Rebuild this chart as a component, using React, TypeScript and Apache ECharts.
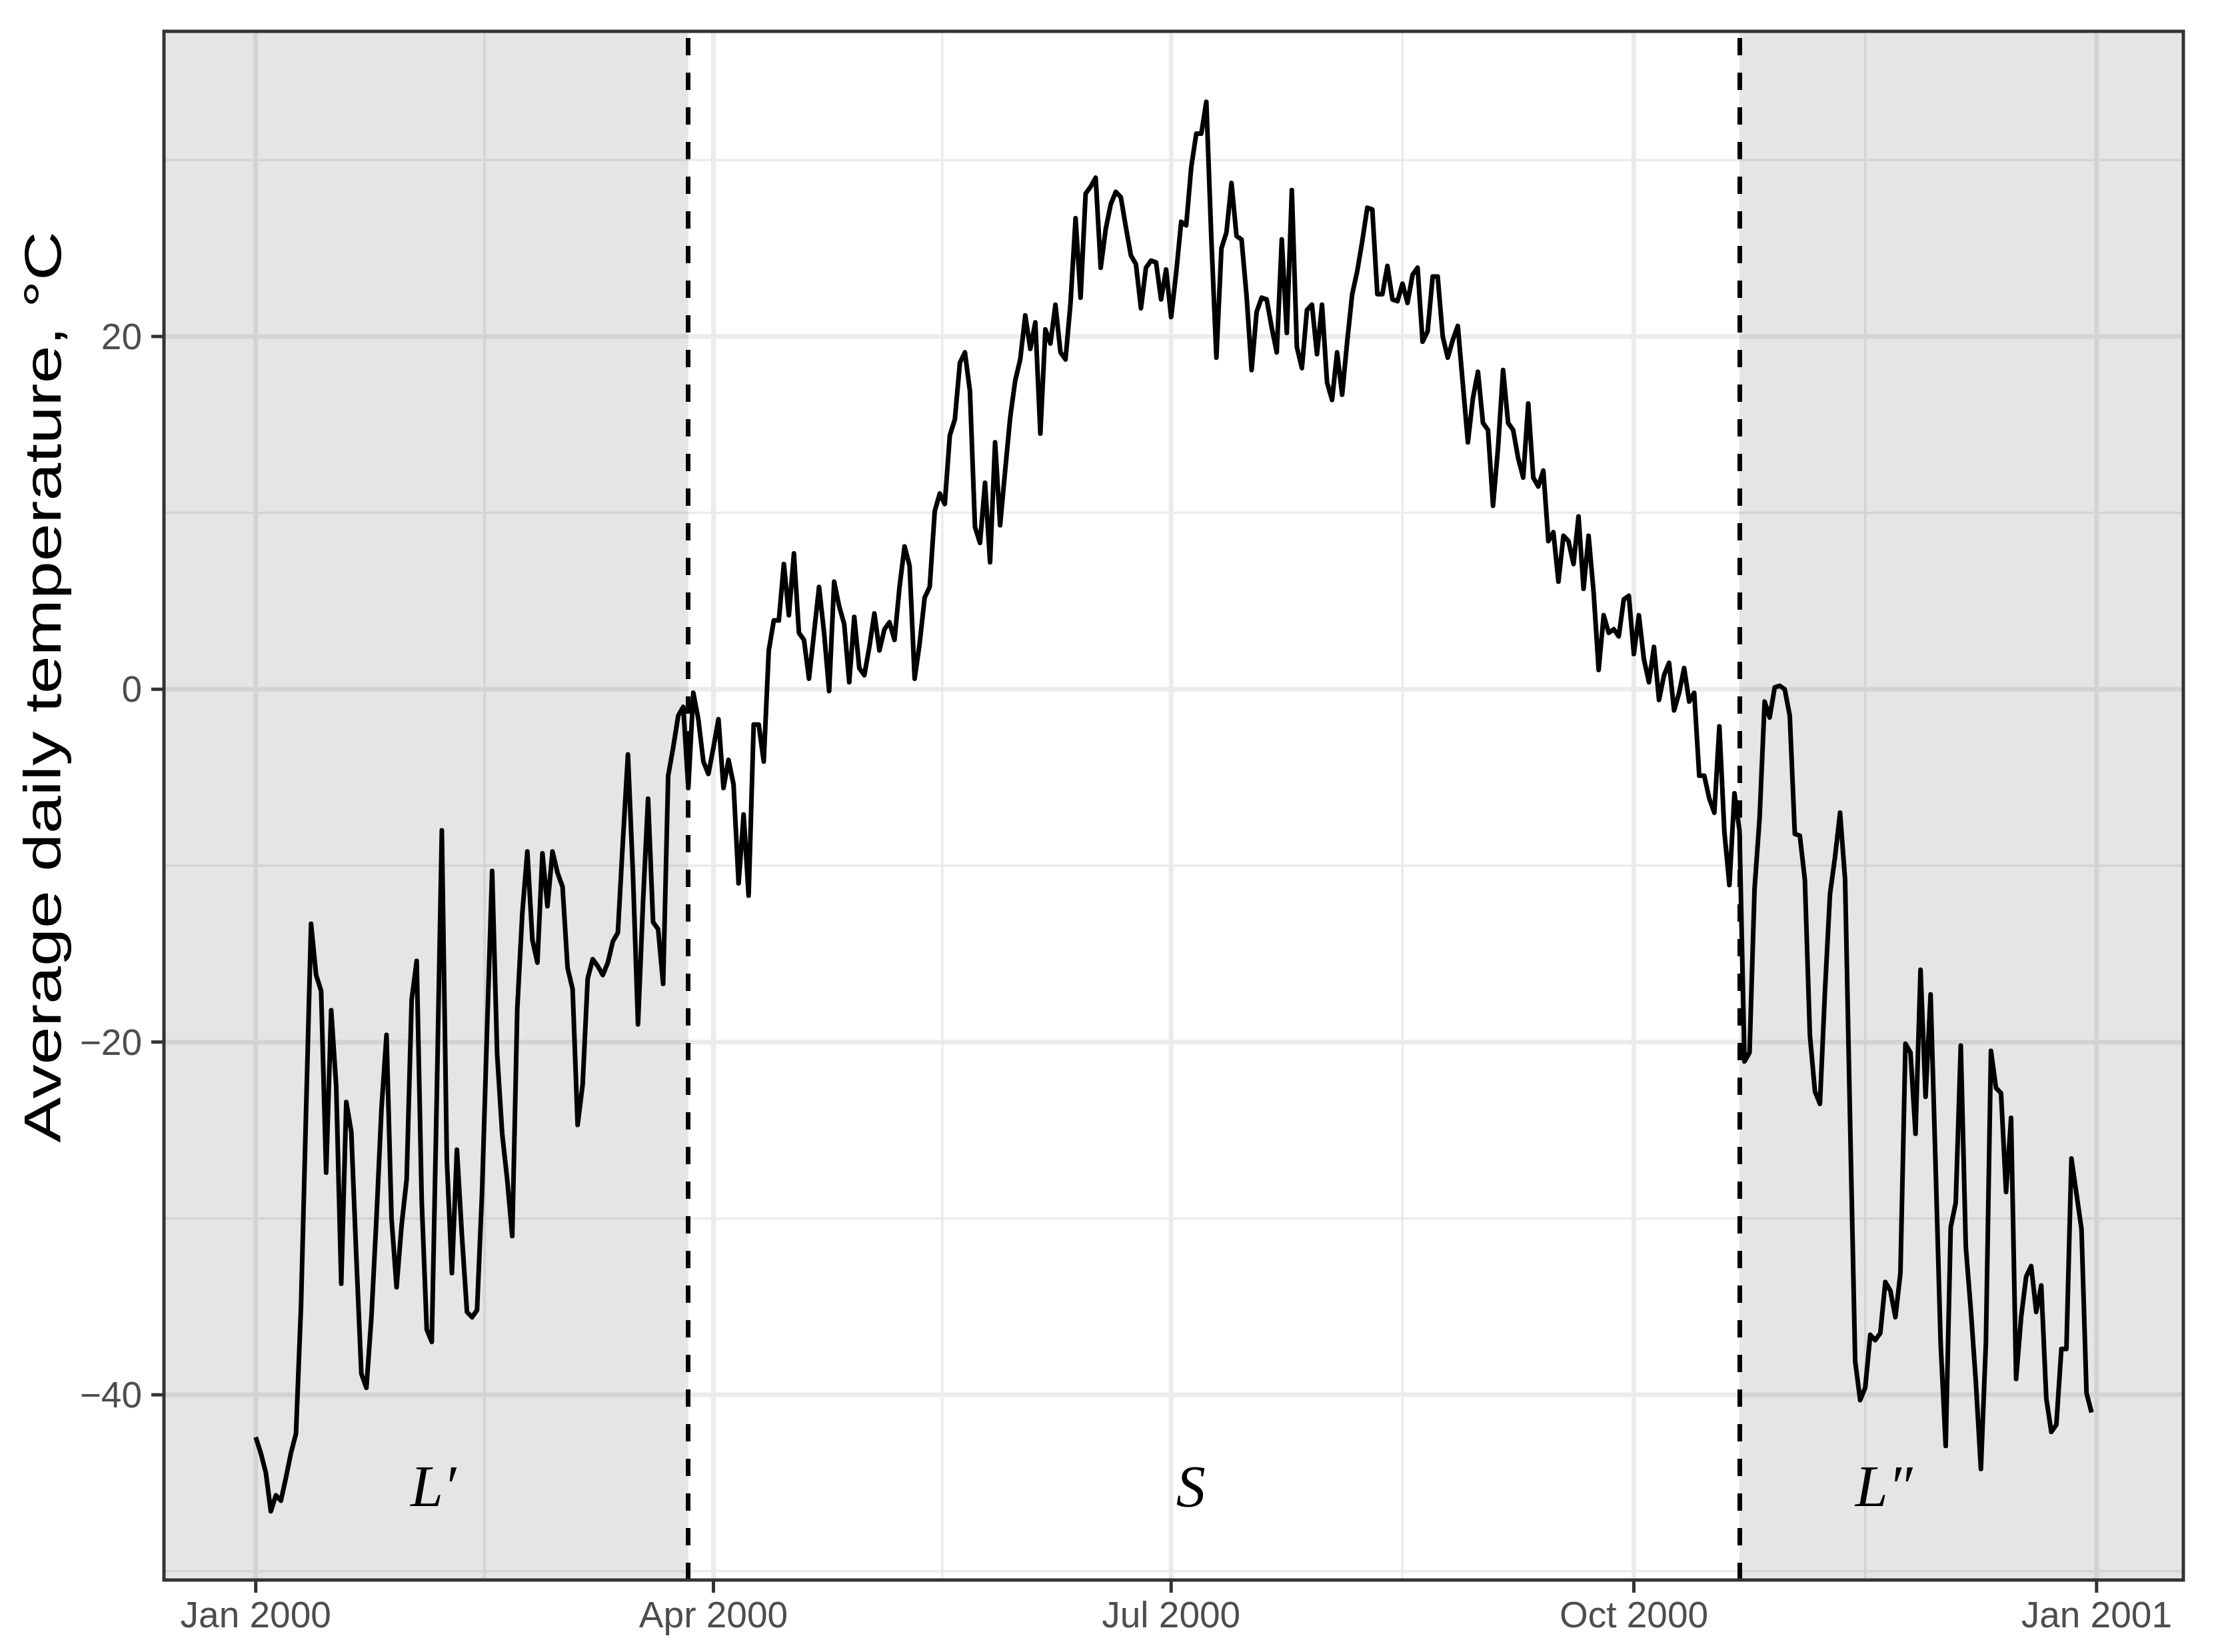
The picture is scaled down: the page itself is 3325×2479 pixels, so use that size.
import React, { useEffect, useRef } from "react";
import * as echarts from "echarts";

// Average daily temperature, one value per day from 1 Jan 2000 (day 0) to 31 Dec 2000 (day 365)
const temperature: number[] = [
  -42.4, -43.3, -44.4, -46.6, -45.7, -46.0, -44.7, -43.3, -42.2, -35.0,
  -24.0, -13.3, -16.2, -17.1, -27.4, -18.2, -22.5, -33.7, -23.4, -25.1,
  -32.2, -38.8, -39.6, -35.6, -30.0, -23.8, -19.6, -30.0, -33.9, -30.4,
  -27.8, -17.6, -15.4, -29.0, -36.3, -37.0, -23.0, -8.0, -26.7, -33.1,
  -26.1, -31.0, -35.3, -35.6, -35.2, -28.5, -19.2, -10.3, -20.7, -25.2,
  -27.8, -31.0, -18.1, -12.7, -9.2, -14.2, -15.5, -9.3, -12.3, -9.2,
  -10.4, -11.2, -15.8, -17.0, -24.7, -22.4, -16.4, -15.3, -15.7, -16.2,
  -15.5, -14.3, -13.8, -8.6, -3.7, -10.5, -19.0, -12.1, -6.2, -13.2,
  -13.6, -16.7, -4.9, -3.3, -1.5, -1.0, -5.6, -0.2, -1.7, -4.1,
  -4.8, -3.3, -1.7, -5.6, -4.0, -5.4, -11.0, -7.1, -11.7, -2.0,
  -2.0, -4.1, 2.2, 3.9, 3.9, 7.1, 4.2, 7.7, 3.2, 2.8,
  0.6, 3.2, 5.8, 3.2, -0.1, 6.1, 4.7, 3.7, 0.4, 4.1,
  1.2, 0.8, 2.4, 4.3, 2.2, 3.4, 3.8, 2.8, 5.8, 8.1,
  7.0, 0.6, 2.6, 5.2, 5.8, 10.1, 11.1, 10.5, 14.4, 15.3,
  18.5, 19.1, 16.9, 9.2, 8.3, 11.7, 7.2, 14.0, 9.3, 12.4,
  15.4, 17.5, 18.7, 21.2, 19.3, 20.8, 14.5, 20.4, 19.6, 21.8,
  19.1, 18.7, 21.9, 26.7, 22.2, 28.1, 28.5, 29.0, 23.9, 26.1,
  27.5, 28.2, 27.9, 26.2, 24.6, 24.1, 21.6, 23.9, 24.3, 24.2,
  22.1, 23.8, 21.1, 23.6, 26.5, 26.3, 29.6, 31.5, 31.5, 33.3,
  25.5, 18.8, 25.0, 25.9, 28.7, 25.7, 25.5, 22.3, 18.1, 21.4,
  22.2, 22.1, 20.5, 19.1, 25.5, 20.2, 28.3, 19.4, 18.2, 21.5,
  21.8, 19.0, 21.8, 17.4, 16.4, 19.1, 16.7, 19.7, 22.4, 23.7,
  25.4, 27.3, 27.2, 22.4, 22.4, 24.0, 22.1, 22.0, 23.0, 21.9,
  23.5, 23.9, 19.7, 20.3, 23.4, 23.4, 20.0, 18.8, 19.8, 20.6,
  17.3, 14.0, 16.5, 18.0, 15.1, 14.7, 10.4, 13.7, 18.1, 15.1,
  14.7, 13.1, 12.0, 16.2, 12.0, 11.5, 12.4, 8.4, 8.9, 6.1,
  8.7, 8.4, 7.1, 9.8, 5.7, 8.7, 5.5, 1.1, 4.2, 3.2,
  3.4, 3.0, 5.1, 5.3, 2.0, 4.2, 1.7, 0.4, 2.4, -0.6,
  0.8, 1.5, -1.2, -0.2, 1.2, -0.7, -0.2, -4.9, -4.9, -6.2,
  -7.0, -2.1, -8.1, -11.1, -5.9, -8.0, -21.1, -20.6, -11.3, -7.3,
  -0.7, -1.6, 0.1, 0.2, 0.0, -1.5, -8.2, -8.3, -10.8, -19.6,
  -22.8, -23.5, -17.1, -11.6, -9.5, -7.0, -10.8, -24.6, -38.1, -40.3,
  -39.6, -36.6, -36.9, -36.5, -33.6, -34.1, -35.6, -33.1, -20.1, -20.6,
  -25.2, -15.9, -23.1, -17.3, -27.1, -37.1, -42.9, -30.5, -29.1, -20.2,
  -31.6, -35.2, -39.3, -44.2, -37.0, -20.5, -22.6, -22.9, -28.5, -24.3,
  -39.1, -35.6, -33.3, -32.7, -35.3, -33.8, -40.2, -42.1, -41.7, -37.4,
  -37.4, -26.6, -28.6, -30.6, -39.9, -41.0,
];

// Axis breaks (day index from 1 Jan 2000)
const xTickDays = [0, 91, 182, 274, 366];
const xTickLabels = ["Jan 2000", "Apr 2000", "Jul 2000", "Oct 2000", "Jan 2001"];
const xMinorDays = [45.5, 136.5, 228, 320];
const yTickValues = [-40, -20, 0, 20];
const yTickLabels = ["\u221240", "\u221220", "0", "20"];
const yMinorValues = [-50, -30, -10, 10, 30];

// Season boundaries (day index) and period labels
const seasonBreaks = [86, 295];
const periodLabels = ["L\u2032", "S", "L\u2033"];
const periodLabelDays = [35.3, 185.9, 323.7];
const periodLabelValue = -45.2;

const yTitle = "Average daily temperature, \u00B0C";

const X_MIN = -18.25;
const X_MAX = 383.25;
const Y_MIN = -50.5;
const Y_MAX = 37.3;

export default function App() {
  const ref = useRef<HTMLDivElement>(null);

  useEffect(() => {
    if (!ref.current) return;
    const chart = echarts.init(ref.current, null, { renderer: "svg" });

    const gridData = [
      ...xMinorDays.map((d) => [d, 0, 0]),
      ...yMinorValues.map((v) => [v, 1, 0]),
      ...xTickDays.map((d) => [d, 0, 1]),
      ...yTickValues.map((v) => [v, 1, 1]),
    ];
    const shadeData = [
      [X_MIN, seasonBreaks[0]],
      [seasonBreaks[1], X_MAX],
    ];
    const axisData = [
      ...xTickDays.map((d, i) => [d, 0, i]),
      ...yTickValues.map((v, i) => [v, 1, i]),
      [0, 2, 0],
    ];
    const labelData = periodLabelDays.map((d, i) => [d, periodLabelValue, i]);

    const axisFont = '55px "Liberation Sans", Arial, sans-serif';

    chart.setOption({
      animation: false,
      backgroundColor: "#ffffff",
      grid: { left: 246, right: 49, top: 47, bottom: 108, show: false },
      xAxis: {
        type: "value",
        min: X_MIN,
        max: X_MAX,
        axisLine: { show: false },
        axisTick: { show: false },
        axisLabel: { show: false },
        splitLine: { show: false },
      },
      yAxis: {
        type: "value",
        min: Y_MIN,
        max: Y_MAX,
        axisLine: { show: false },
        axisTick: { show: false },
        axisLabel: { show: false },
        splitLine: { show: false },
      },
      graphic: [
        {
          type: "text",
          x: 64,
          y: 1031,
          rotation: Math.PI / 2,
          scaleX: 1.31,
          style: {
            text: yTitle,
            font: '78px "Liberation Sans", Arial, sans-serif',
            fill: "#000000",
            align: "center",
            verticalAlign: "middle",
          },
        },
      ],
      series: [
        {
          type: "custom",
          z: 1,
          silent: true,
          data: gridData,
          renderItem: (params: any, api: any) => {
            const pos = api.value(0);
            const orient = api.value(1);
            const major = api.value(2);
            let a, b;
            if (orient === 0) {
              a = api.coord([pos, Y_MIN]);
              b = api.coord([pos, Y_MAX]);
            } else {
              a = api.coord([X_MIN, pos]);
              b = api.coord([X_MAX, pos]);
            }
            return {
              type: "line",
              shape: { x1: a[0], y1: a[1], x2: b[0], y2: b[1] },
              style: { stroke: "#EBEBEB", lineWidth: major ? 7 : 3.5 },
            };
          },
        },
        {
          type: "custom",
          z: 2,
          silent: true,
          data: shadeData,
          renderItem: (params: any, api: any) => {
            const tl = api.coord([api.value(0), Y_MAX]);
            const br = api.coord([api.value(1), Y_MIN]);
            return {
              type: "rect",
              shape: { x: tl[0], y: tl[1], width: br[0] - tl[0], height: br[1] - tl[1] },
              style: { fill: "rgba(0,0,0,0.1)" },
            };
          },
        },
        {
          type: "line",
          z: 3,
          data: temperature.map((v, i) => [i, v]),
          showSymbol: false,
          symbol: "none",
          lineStyle: { color: "#000000", width: 7, join: "round" },
          markLine: {
            silent: true,
            symbol: "none",
            label: { show: false },
            lineStyle: { color: "#000000", width: 7, type: [26, 26] },
            data: [{ xAxis: seasonBreaks[0] }, { xAxis: seasonBreaks[1] }],
          },
        },
        {
          type: "custom",
          z: 5,
          silent: true,
          data: labelData,
          renderItem: (params: any, api: any) => {
            const p = api.coord([api.value(0), api.value(1)]);
            return {
              type: "text",
              x: p[0],
              y: p[1],
              style: {
                text: periodLabels[api.value(2)],
                font: 'italic 88px "Liberation Serif", "DejaVu Serif", serif',
                fill: "#000000",
                align: "center",
                verticalAlign: "middle",
              },
            };
          },
        },
        {
          type: "custom",
          z: 6,
          silent: true,
          data: axisData,
          renderItem: (params: any, api: any) => {
            const pos = api.value(0);
            const orient = api.value(1);
            const idx = api.value(2);
            if (orient === 2) {
              const tl = api.coord([X_MIN, Y_MAX]);
              const br = api.coord([X_MAX, Y_MIN]);
              return {
                type: "rect",
                shape: { x: tl[0], y: tl[1], width: br[0] - tl[0], height: br[1] - tl[1] },
                style: { fill: "none", stroke: "#333333", lineWidth: 5 },
              };
            }
            if (orient === 0) {
              const p = api.coord([pos, Y_MIN]);
              return {
                type: "group",
                children: [
                  {
                    type: "line",
                    shape: { x1: p[0], y1: p[1], x2: p[0], y2: p[1] + 19 },
                    style: { stroke: "#333333", lineWidth: 5 },
                  },
                  {
                    type: "text",
                    x: p[0],
                    y: p[1] + 52,
                    style: {
                      text: xTickLabels[idx],
                      font: axisFont,
                      fill: "#4D4D4D",
                      align: "center",
                      verticalAlign: "middle",
                    },
                  },
                ],
              };
            }
            const p = api.coord([X_MIN, pos]);
            return {
              type: "group",
              children: [
                {
                  type: "line",
                  shape: { x1: p[0] - 19, y1: p[1], x2: p[0], y2: p[1] },
                  style: { stroke: "#333333", lineWidth: 5 },
                },
                {
                  type: "text",
                  x: p[0] - 33,
                  y: p[1],
                  style: {
                    text: yTickLabels[idx],
                    font: axisFont,
                    fill: "#4D4D4D",
                    align: "right",
                    verticalAlign: "middle",
                  },
                },
              ],
            };
          },
        },
      ],
    });

    return () => {
      chart.dispose();
    };
  }, []);

  return (
    <div
      ref={ref}
      style={{ position: "fixed", left: 0, top: 0, width: 3325, height: 2479, background: "#ffffff" }}
    />
  );
}
